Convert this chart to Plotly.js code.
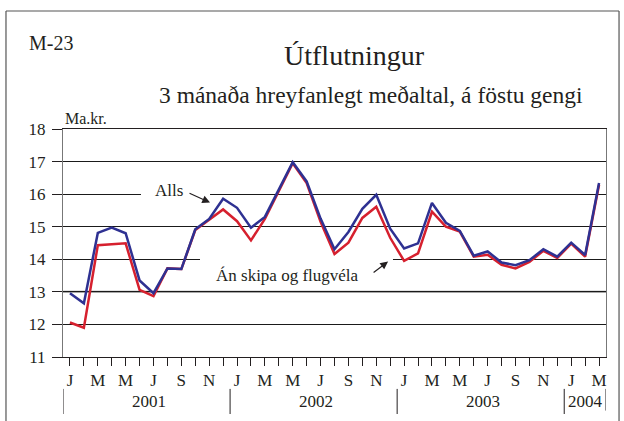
<!DOCTYPE html>
<html>
<head>
    <meta charset="utf-8">
    <title>Útflutningur</title>
    <style>
        html, body, #plot {
            width: 624px;
            height: 421px;
            margin: 0;
            padding: 0;
            overflow: hidden;
            background: #fff;
        }
    </style>
    <script src="https://cdn.plot.ly/plotly-3.0.1.min.js"></script>
</head>
<body>
<div id="plot"></div>
<script>
    // monthly data, Jan 2001 - Mar 2004 (Ma.kr., 3 month moving average)
    const months = ['J', 'F', 'M', 'A', 'M', 'J', 'J', 'A', 'S', 'O', 'N', 'D'];
    const years = ['2001', '2002', '2003', '2004'];
    const monthsPerYear = [12, 12, 12, 3];

    const alls = [
        12.96, 12.65, 14.81, 14.97, 14.80, 13.35, 12.96, 13.72, 13.70, 14.92, 15.24, 15.86,
        15.58, 14.97, 15.30, 16.14, 16.98, 16.39, 15.25, 14.31, 14.84, 15.55, 15.98, 14.94,
        14.33, 14.49, 15.73, 15.12, 14.87, 14.11, 14.24, 13.90, 13.82, 13.97, 14.31, 14.08,
        14.51, 14.13, 16.34
    ];
    const anSkipa = [
        12.06, 11.90, 14.43, 14.47, 14.49, 13.06, 12.87, 13.72, 13.70, 14.90, 15.22, 15.53,
        15.17, 14.58, 15.24, 16.11, 16.95, 16.34, 15.15, 14.16, 14.51, 15.27, 15.61, 14.66,
        13.95, 14.18, 15.46, 15.00, 14.85, 14.08, 14.14, 13.83, 13.72, 13.92, 14.26, 14.04,
        14.48, 14.08, 16.29
    ];

    const serif = '"Liberation Serif", "Times New Roman", Times, serif';
    const ink = '#231f20';

    const x = alls.map(function (v, i) { return i; });
    const ticktext = x.map(function (i) { return i % 2 === 0 ? months[i % 12] : ''; });

    const traceAn = {
        x: x, y: anSkipa, type: 'scatter', mode: 'lines', name: 'Án skipa og flugvéla',
        line: {color: '#d6202e', width: 2.5}
    };
    const traceAlls = {
        x: x, y: alls, type: 'scatter', mode: 'lines', name: 'Alls',
        line: {color: '#2e3192', width: 2.5}
    };

    // year dividers and labels below the month ticks
    const shapes = [];
    const annotations = [];
    let start = 0;
    years.forEach(function (yr, k) {
        const n = monthsPerYear[k];
        shapes.push({type: 'line', xref: 'x', yref: 'paper', x0: start - 0.5, x1: start - 0.5,
            y0: -0.14, y1: -0.25, line: {color: ink, width: 1}});
        annotations.push({text: yr, xref: 'x', yref: 'paper', x: start + (n - 1) / 2 + (k === 3 ? 0 : 0.2),
            y: -0.193, showarrow: false, yanchor: 'middle', font: {family: serif, size: 17, color: ink}});
        start += n;
    });
    shapes.push({type: 'line', xref: 'x', yref: 'paper', x0: start - 0.5, x1: start - 0.5,
        y0: -0.14, y1: -0.235, line: {color: ink, width: 1}});

    // white gaps in the grid behind the labels
    shapes.push({type: 'rect', xref: 'x', yref: 'y', x0: 5.1, x1: 10.06, y0: 15.9, y1: 16.1,
        fillcolor: '#fff', line: {width: 0}, layer: 'between'});
    shapes.push({type: 'rect', xref: 'x', yref: 'y', x0: 9.34, x1: 23.2, y0: 13.9, y1: 14.1,
        fillcolor: '#fff', line: {width: 0}, layer: 'between'});
    shapes.push({type: 'line', xref: 'paper', yref: 'y', x0: 0, x1: 1, y0: 13, y1: 13,
        line: {color: '#8a8a8a', width: 2}, layer: 'between'});

    // outer frame
    shapes.push({type: 'line', xref: 'paper', yref: 'paper', x0: -0.105, x1: 1.024, y0: 1.5175, y1: 1.5175,
        line: {color: '#555', width: 1.2}});
    shapes.push({type: 'line', xref: 'paper', yref: 'paper', x0: -0.105, x1: -0.105, y0: 1.5175, y1: -0.4,
        line: {color: '#555', width: 1.2}});
    shapes.push({type: 'line', xref: 'paper', yref: 'paper', x0: 1.024, x1: 1.024, y0: 1.5175, y1: -0.4,
        line: {color: '#555', width: 1.2}});

    annotations.push(
        {text: 'M-23', xref: 'paper', yref: 'paper', x: -0.066, y: 1.378, xanchor: 'left', yanchor: 'middle',
            showarrow: false, font: {family: serif, size: 20, color: ink}},
        {text: '3 mánaða hreyfanlegt meðaltal, á föstu gengi', xref: 'paper', yref: 'paper', x: 0.568, y: 1.149,
            xanchor: 'center', yanchor: 'middle', showarrow: false, font: {family: serif, size: 23.5, color: ink}},
        {text: 'Ma.kr.', xref: 'paper', yref: 'paper', x: 0, y: 1.0, xanchor: 'left', yanchor: 'bottom',
            showarrow: false, font: {family: serif, size: 16, color: ink}},
        {text: 'Alls', xref: 'x', yref: 'y', x: 7.08, y: 16.11, showarrow: false,
            font: {family: serif, size: 17, color: ink}},
        {text: '', xref: 'x', yref: 'y', x: 10.06, y: 15.74, ax: -22, ay: -10, showarrow: true,
            arrowhead: 2, arrowsize: 1.3, arrowwidth: 1.2, arrowcolor: ink},
        {text: 'Án skipa og flugvéla', xref: 'x', yref: 'y', x: 15.59, y: 13.5, showarrow: false,
            font: {family: serif, size: 17, color: ink}},
        {text: '', xref: 'x', yref: 'y', x: 22.85, y: 13.93, ax: -16, ay: 12, showarrow: true,
            arrowhead: 2, arrowsize: 1.3, arrowwidth: 1.2, arrowcolor: ink}
    );

    const layout = {
        width: 624,
        height: 421,
        margin: {l: 63, r: 18, t: 129, b: 64, pad: 0},
        paper_bgcolor: '#fff',
        plot_bgcolor: '#fff',
        showlegend: false,
        title: {
            text: 'Útflutningur',
            font: {family: serif, size: 28, color: ink},
            xref: 'paper', x: 0.536, xanchor: 'center',
            yref: 'container', y: 0.869, yanchor: 'middle'
        },
        xaxis: {
            range: [-0.5, 38.5],
            tickmode: 'array',
            tickvals: x,
            ticktext: ticktext,
            ticks: 'outside',
            ticklen: 8,
            tickcolor: ink,
            showgrid: false,
            zeroline: false,
            showline: true,
            linecolor: ink,
            linewidth: 1,
            mirror: true,
            tickfont: {family: serif, size: 17, color: ink}
        },
        yaxis: {
            range: [11, 18],
            dtick: 1,
            ticks: 'outside',
            ticklen: 10,
            tickcolor: ink,
            ticklabelstandoff: 3,
            showgrid: true,
            gridcolor: '#1a1a1a',
            gridwidth: 1,
            zeroline: false,
            showline: true,
            linecolor: '#777',
            linewidth: 1,
            mirror: true,
            tickfont: {family: serif, size: 17, color: ink}
        },
        shapes: shapes,
        annotations: annotations
    };

    Plotly.newPlot('plot', [traceAn, traceAlls], layout, {displayModeBar: false, staticPlot: true});
</script>
</body>
</html>
